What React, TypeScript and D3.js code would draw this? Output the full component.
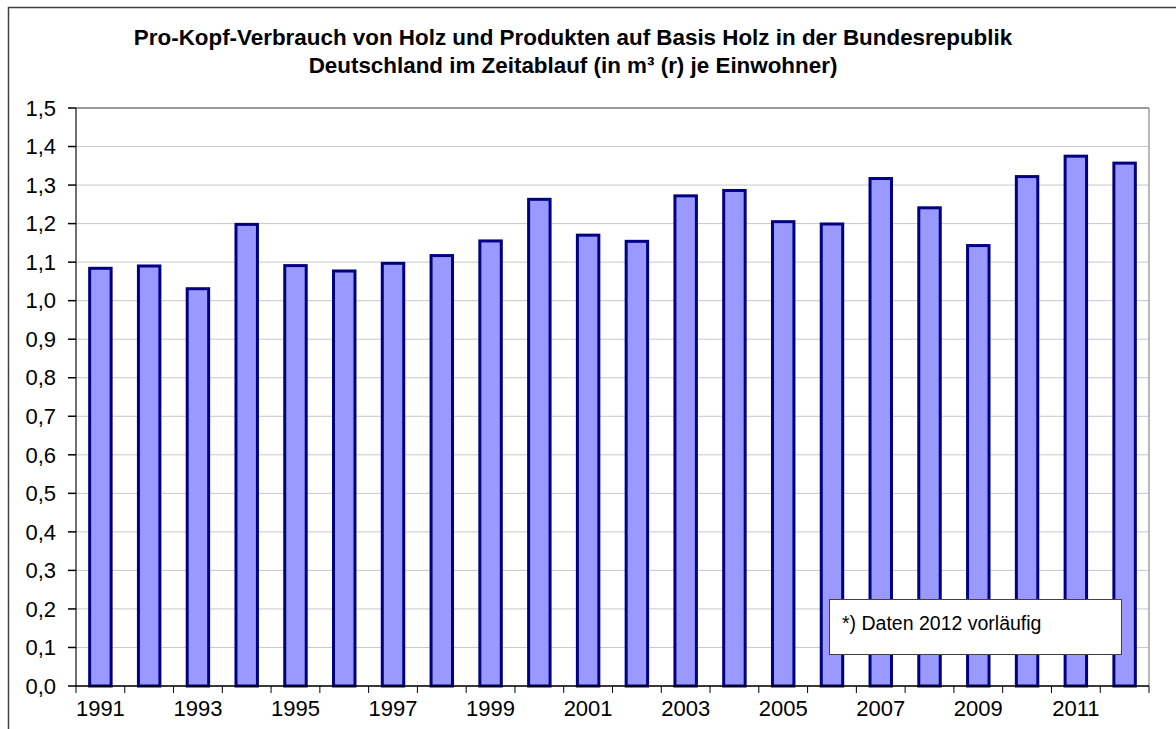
import React from "react";
import * as d3 from "d3";

const years = [1991,1992,1993,1994,1995,1996,1997,1998,1999,2000,2001,2002,2003,2004,2005,2006,2007,2008,2009,2010,2011,2012];
const values = [1.084,1.090,1.031,1.198,1.091,1.077,1.097,1.117,1.155,1.263,1.170,1.154,1.272,1.286,1.205,1.199,1.317,1.241,1.143,1.322,1.375,1.357];
const yTicks = [0,0.1,0.2,0.3,0.4,0.5,0.6,0.7,0.8,0.9,1.0,1.1,1.2,1.3,1.4,1.5];
const titleLines = [
  "Pro-Kopf-Verbrauch von Holz und Produkten auf Basis Holz in der Bundesrepublik",
  "Deutschland im Zeitablauf (in m³ (r) je Einwohner)",
];
const noteText = "*) Daten 2012 vorläufig";

const W = 1176, H = 729;
const L = 76, R = 1149, T = 108, B = 686;
const FONT = "Arial, 'Liberation Sans', sans-serif";

export default function App() {
  const x = d3.scaleBand<number>().domain(years).range([L, R]).paddingInner(0.56).paddingOuter(0.28);
  const xb = d3.scaleBand<number>().domain(years).range([L, R]);
  const y = d3.scaleLinear().domain([0, 1.5]).range([B, T]);
  const fmt = (v: number) => d3.format(".1f")(v).replace(".", ",");
  const boundaries = years.map((yr) => xb(yr)!).concat([R]);

  return (
    <svg width={W} height={H} style={{ position: "absolute", left: 0, top: 0, background: "#fff" }} fontFamily={FONT}>
      <rect x={8.5} y={7.5} width={1200} height={800} fill="#fff" stroke="#404040" strokeWidth={1.5} />
      {titleLines.map((t, i) => (
        <text key={i} x={573} y={45 + i * 28} textAnchor="middle" fontWeight="bold" fontSize={22.4} fill="#000">{t}</text>
      ))}
      {yTicks.map((v) => (
        <line key={"g" + v} x1={L} x2={R} y1={y(v)} y2={y(v)} stroke="#c8c8c8" strokeWidth={1} />
      ))}
      <line x1={L} x2={R} y1={T} y2={T} stroke="#808080" strokeWidth={1.5} />
      <line x1={R} x2={R} y1={T} y2={B} stroke="#a0a0a0" strokeWidth={1.5} />
      {years.map((yr, i) => (
        <rect key={yr} x={x(yr)!} y={y(values[i])} width={x.bandwidth()} height={B - y(values[i])}
          fill="#9999ff" stroke="#000080" strokeWidth={3} />
      ))}
      <line x1={L} x2={L} y1={T} y2={B} stroke="#404040" strokeWidth={1.5} />
      <line x1={L} x2={R} y1={B} y2={B} stroke="#000" strokeWidth={1.5} />
      {yTicks.map((v) => (
        <g key={"t" + v}>
          <line x1={L - 8} x2={L} y1={y(v)} y2={y(v)} stroke="#000" strokeWidth={1.5} />
          <text x={56} y={y(v)} dy="0.35em" textAnchor="end" fontSize={22} fill="#000">{fmt(v)}</text>
        </g>
      ))}
      {boundaries.map((bx, i) => (
        <line key={"xb" + i} x1={bx} x2={bx} y1={B} y2={B + 7} stroke="#000" strokeWidth={1} />
      ))}
      {years.map((yr, i) => i % 2 === 0 ? (
        <text key={"xl" + yr} x={xb(yr)! + xb.bandwidth() / 2} y={716} textAnchor="middle" fontSize={22} fill="#000">{yr}</text>
      ) : null)}
      <rect x={829.5} y={599.5} width={292} height={55} fill="#fff" stroke="#404040" strokeWidth={1} />
      <text x={842} y={630} fontSize={19.5} fill="#000">{noteText}</text>
    </svg>
  );
}
